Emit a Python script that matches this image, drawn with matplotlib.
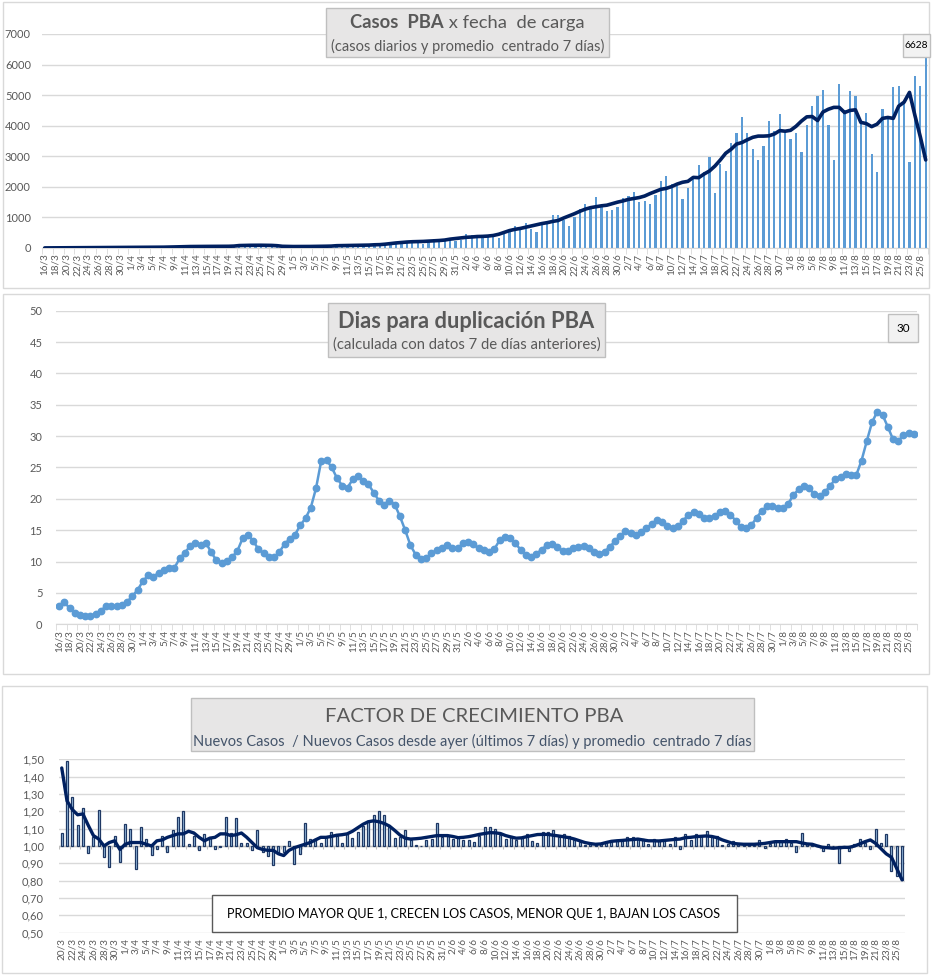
import numpy as np
import pandas as pd
import matplotlib
matplotlib.use("Agg")
import matplotlib.pyplot as plt
from matplotlib.patches import Rectangle

plt.rcParams['font.family'] = ['Lato', 'DejaVu Sans']

W, H = 932, 975

# ---- data ----
dates = pd.date_range("2020-03-16", "2020-08-26")
date_labels = [f"{d.day}/{d.month}" for d in dates]
factor_labels = date_labels[4:]          # growth factor starts 20/3

# daily cases (bars)
casos = [2, 3, 4, 3, 6, 8, 5, 10, 12, 9, 14, 15, 11, 17, 18, 14, 20, 22, 18, 24, 25, 21, 27, 28, 30,
         42, 48, 45, 52, 50, 55, 48, 53, 58, 52, 60,
         85, 88, 92, 95, 90, 86, 84, 70,
         52, 48, 46, 50, 52, 48, 55, 56, 60, 64,
         72, 78, 80, 84, 86, 90, 96, 104,
         98, 120, 140, 152, 196, 185, 261, 152, 130, 185, 294, 229, 261, 261, 229, 250, 457, 414,
         370, 327, 370, 392, 327, 479, 588, 719, 697, 806, 632, 523, 762, 806, 1078, 1067, 915,
         719, 1002, 1286, 1438, 1330, 1667, 1373, 1210, 1242, 1340,
         1630, 1700, 1830, 1500, 1540, 1440, 1740, 2190, 2350, 2080, 2040, 1600, 1970, 2250, 2710,
         2490, 2970, 1800, 2760, 2520, 3430, 3760, 4280, 3760, 3240, 2880, 3330, 4150, 3820, 4380,
         3760, 3560, 3760, 3140, 4020, 4640, 4970, 5160, 4020, 2880, 5360, 4500, 5130, 4970, 4100,
         4400, 3070, 2480, 4540, 4270, 5270, 5300, 4730, 2810, 5620, 5300, 6628]

# centered 7-day average (line)
casos_prom = [3, 4, 5, 6, 7, 8, 9, 10, 11, 12, 13, 14, 15, 16, 17, 18, 20, 21, 22, 23, 24, 25, 27, 30, 35,
              40, 45, 48, 50, 50, 52, 52, 53, 55, 56, 62,
              80, 85, 88, 90, 90, 88, 85, 75,
              55, 50, 48, 48, 50, 50, 52, 55, 58, 62,
              75, 78, 80, 82, 85, 88, 95, 105,
              110, 125, 145, 165, 180, 195, 205, 210, 215, 225, 235, 245, 260, 290, 310, 330, 350,
              360, 375, 380, 390, 410, 450, 510, 570, 610, 640, 680, 720, 760, 800, 830, 870, 900,
              980, 1050, 1120, 1200, 1270, 1320, 1350, 1380, 1400, 1450, 1500,
              1540, 1590, 1620, 1650, 1700, 1780, 1850, 1920, 1950, 2010, 2090, 2150, 2180, 2310,
              2300, 2420, 2520, 2680, 2880, 3100, 3230, 3400, 3450, 3540, 3620, 3660, 3660, 3670,
              3730, 3840, 3820, 3850, 3980,
              4150, 4290, 4300, 4170, 4450, 4540, 4600, 4600, 4430, 4500, 4520,
              4110, 4070, 3970, 4050, 4240, 4270, 4240, 4640, 4770, 5090, 4340, 3640, 2880]

# days to double
dias_dup = [2.9, 3.6, 2.55, 1.86, 1.5, 1.33, 1.33, 1.7, 2.2, 2.9,
            2.9, 2.9, 3.1, 3.6, 4.5, 5.5, 6.9, 7.8, 7.6, 8.2,
            8.7, 8.9, 9.0, 10.5, 11.4, 12.5, 13.0, 12.6, 13.0, 11.5,
            10.2, 9.7, 10.1, 10.7, 11.7, 13.7, 14.3, 13.3, 12.0, 11.3,
            10.7, 10.7, 11.5, 12.8, 13.6, 14.3, 15.8, 16.9, 18.6, 21.7,
            26.1, 26.2, 25.0, 23.3, 22.1, 21.8, 23.1, 23.7, 22.8, 22.3,
            21.0, 19.7, 19.1, 19.7, 19.1, 17.2, 15.0, 12.6, 11.1, 10.4,
            10.6, 11.3, 11.8, 12.2, 12.6, 12.1, 12.1, 12.9,
            13.1, 12.75, 12.1, 11.9, 11.6, 12.0, 13.4, 13.9, 13.7, 12.9,
            11.9, 11.05, 10.7, 11.2, 11.9, 12.6, 12.75, 12.4, 11.7, 11.7,
            12.1, 12.4, 12.5, 12.1, 11.6, 11.2, 11.6, 12.3, 13.3, 14.1,
            14.8, 14.6, 14.3, 14.7, 15.3, 16.0, 16.6, 16.3, 15.6, 15.3,
            15.6, 16.5, 17.5, 17.9, 17.6, 17.0, 17.0, 17.2, 17.9, 18.0,
            17.5, 16.5, 15.5, 15.3, 15.8, 17.0, 18.1, 18.8, 18.8, 18.5,
            18.5, 19.2, 20.6, 21.5, 22.0, 21.7, 20.7, 20.4, 21.1, 22.0,
            23.2, 23.5, 23.9, 23.8, 23.8, 26.1, 29.2, 32.2, 33.9, 33.4,
            31.5, 29.5, 29.2, 30.2, 30.5, 30.3]

# growth factor (bars, from 20/3)
factor = [1.073, 1.49, 1.28, 1.12, 1.22, 0.96, 1.05, 1.205, 0.935, 0.88,
          1.06, 0.91, 1.125, 1.10, 0.865, 1.108, 1.04, 0.95, 0.98, 1.06,
          0.965, 1.095, 1.165, 1.20, 1.01, 1.055, 0.975, 1.07, 1.05, 0.98,
          0.995, 1.17, 1.073, 1.16, 1.015, 1.015, 0.977, 1.092, 0.967, 0.94,
          0.89, 0.958, 0.967, 1.027, 0.896, 0.952, 1.13, 1.04, 1.04, 1.015,
          1.05, 1.08, 1.06, 1.015, 1.067, 1.045, 1.083, 1.115, 1.145, 1.177,
          1.20, 1.177, 1.108, 1.045, 1.05, 1.092, 1.035, 1.006, 1.002, 1.035,
          1.04, 1.13, 1.05, 1.055, 1.04, 1.05, 1.035, 1.035, 1.023, 1.06,
          1.108, 1.108, 1.10, 1.063, 1.04, 1.055, 1.035, 1.045, 1.067, 1.03,
          1.015, 1.08, 1.08, 1.092, 1.05, 1.067, 1.055, 1.035, 1.025, 1.006,
          1.012, 1.004, 1.01, 1.015, 1.025, 1.035, 1.03, 1.05, 1.05, 1.042,
          1.042, 1.012, 1.04, 1.035, 1.035, 1.01, 1.05, 0.98, 1.067, 1.035,
          1.067, 1.06, 1.087, 1.054, 1.06, 1.004, 1.01, 1.03, 1.01, 1.01,
          1.005, 1.005, 1.035, 0.99, 1.01, 1.023, 1.023, 1.042, 1.015, 0.965,
          1.073, 1.01, 1.01, 1.005, 0.97, 1.012, 1.002, 0.904, 1.00, 0.97,
          1.012, 1.04, 1.015, 0.985, 1.10, 1.02, 1.067, 0.858, 0.827, 0.804]

# centered 7-day average of the factor
factor_prom = [1.45, 1.26, 1.21, 1.18, 1.185, 1.12, 1.06, 1.04, 1.00, 1.02,
               1.03, 0.98, 1.01, 1.02, 1.02, 1.02, 1.01, 1.00, 1.03, 1.035,
               1.05, 1.06, 1.07, 1.07, 1.085, 1.075, 1.05, 1.03, 1.045, 1.05,
               1.07, 1.07, 1.06, 1.065, 1.075, 1.05, 1.02, 0.99, 0.98, 0.975,
               0.975, 0.955, 0.945, 0.975, 0.99, 1.00, 1.01, 1.02, 1.035, 1.05,
               1.05, 1.055, 1.062, 1.065, 1.07, 1.085, 1.105, 1.125, 1.14, 1.145,
               1.14, 1.13, 1.115, 1.09, 1.063, 1.045, 1.04, 1.042, 1.045, 1.05,
               1.055, 1.06, 1.06, 1.06, 1.055, 1.048, 1.05, 1.054, 1.06, 1.067,
               1.072, 1.077, 1.076, 1.072, 1.06, 1.052, 1.045, 1.047, 1.054, 1.06,
               1.066, 1.067, 1.067, 1.062, 1.058, 1.053, 1.048, 1.04, 1.03, 1.02,
               1.014, 1.01, 1.012, 1.02, 1.027, 1.03, 1.032, 1.035, 1.037, 1.04,
               1.035, 1.03, 1.03, 1.029, 1.032, 1.035, 1.038, 1.04, 1.048, 1.05,
               1.054, 1.056, 1.058, 1.055, 1.048, 1.035, 1.025, 1.015, 1.012, 1.01,
               1.01, 1.01, 1.012, 1.015, 1.02, 1.025, 1.025, 1.025, 1.025, 1.025,
               1.018, 1.012, 1.01, 1.0, 0.992, 0.99, 0.987, 0.99, 0.992, 0.992,
               1.0, 1.012, 1.025, 1.035, 1.015, 0.985, 0.955, 0.935, 0.87, 0.805]

GRAY = '#595959'
GRID = '#d9d9d9'

fig = plt.figure(figsize=(W / 100, H / 100), dpi=100)
renderer = fig.canvas.get_renderer()


def ax_px(left, top, right, bottom):
    return fig.add_axes([left / W, 1 - bottom / H, (right - left) / W, (bottom - top) / H])


def box_px(x0, y0, x1, y1, fc, ec, lw=1.0):
    fig.patches.append(Rectangle((x0 / W, 1 - y1 / H), (x1 - x0) / W, (y1 - y0) / H,
                                 transform=fig.transFigure, facecolor=fc, edgecolor=ec,
                                 linewidth=lw, zorder=5))


def fit_text(xc, y, s, target, **kw):
    t = fig.text(xc / W, 1 - y / H, s, fontsize=10, ha='center', va='center', zorder=6, **kw)
    w = t.get_window_extent(renderer).width
    t.set_fontsize(10 * target / w)
    return t


def two_part(xc, y, s1, s2, target, color):
    t1 = fig.text(0, 1 - y / H, s1, fontsize=10, weight='bold', ha='left', va='center', color=color, zorder=6)
    t2 = fig.text(0, 1 - y / H, s2, fontsize=10, ha='left', va='center', color=color, zorder=6)
    w1 = t1.get_window_extent(renderer).width
    w2 = t2.get_window_extent(renderer).width
    k = target / (w1 + w2)
    t1.set_fontsize(10 * k)
    t2.set_fontsize(10 * k)
    x0 = xc - target / 2
    t1.set_x(x0 / W)
    t2.set_x((x0 + w1 * k) / W)


def style_axis(ax, n, labels, ypad):
    for s in ['top', 'right', 'left']:
        ax.spines[s].set_visible(False)
    ax.spines['bottom'].set_color(GRID)
    ax.grid(axis='y', color=GRID, lw=1)
    ax.set_axisbelow(True)
    ax.set_xlim(-0.5, n - 0.5)
    ax.set_xticks(np.arange(0, n, 2))
    ax.set_xticklabels(labels[::2], rotation=90, fontsize=7.2, color=GRAY)
    ax.set_xticks(np.arange(-0.5, n, 2), minor=True)
    ax.tick_params(axis='x', which='major', length=0, pad=4)
    ax.tick_params(axis='x', which='minor', length=4, color=GRID)
    ax.tick_params(axis='y', length=0, pad=ypad, labelsize=8, labelcolor=GRAY)


# panel borders
box_px(3, 2, 929, 288, 'none', GRID)
box_px(3, 294, 929, 674, 'none', GRID)
box_px(2, 686, 927, 973, 'none', GRID)

# ---- top: cases ----
n1 = len(casos)
ax1 = ax_px(42, 34, 42 + 886.4, 248)
x1 = np.arange(n1)
ax1.bar(x1, casos, width=0.42, color='#5b9bd5', zorder=2)
ax1.plot(x1, casos_prom, color='#002060', lw=2.6, zorder=3, solid_capstyle='round')
ax1.set_ylim(0, 7000)
ax1.set_yticks(range(0, 7001, 1000))
style_axis(ax1, n1, date_labels, 8)

box_px(326, 8, 609, 57, '#e7e6e6', '#bfbfbf')
two_part(467, 23, "Casos  PBA", " x fecha  de carga", 234, GRAY)
fit_text(467.5, 46, "(casos diarios y promedio  centrado 7 días)", 273, color=GRAY)
box_px(903, 34, 930, 57, '#f2f2f2', '#bfbfbf')
fit_text(916.5, 45.5, str(casos[-1]), 24, color='black')

# ---- middle: doubling days ----
n2 = len(dias_dup)
ax2 = ax_px(56.4, 310.7, 56.4 + 860.2, 624.3)
x2 = np.arange(n2)
ax2.plot(x2, dias_dup, color='#5b9bd5', lw=1.8, marker='o', markersize=4.6, zorder=3)
ax2.set_ylim(0, 50)
ax2.set_yticks(range(0, 51, 5))
style_axis(ax2, n2, date_labels, 10)

box_px(328, 303, 605, 357, '#e7e6e6', '#bfbfbf')
fit_text(466, 321, "Dias para duplicación PBA", 256, color=GRAY, weight='bold')
fit_text(466.5, 345, "(calculada con datos 7 de días anteriores)", 267, color=GRAY)
box_px(888, 314, 918, 342, '#f2f2f2', '#bfbfbf')
fit_text(903, 328, f"{dias_dup[-1]:.0f}", 13.4, color='black')

# ---- bottom: growth factor ----
n3 = len(factor)
ax3 = ax_px(59.1, 759.3, 59.1 + 845.6, 932.7)
x3 = np.arange(n3)
fv = np.array(factor)
ax3.bar(x3, fv - 1, bottom=1, width=0.38, facecolor='#9dc3e6', edgecolor='#1f3864', lw=0.9, zorder=2)
ax3.plot(x3, factor_prom, color='#002060', lw=2.4, zorder=3, solid_capstyle='round')
ax3.axhline(1.0, color='#bfbfbf', lw=1, zorder=1)
ax3.vlines(np.arange(-0.5, n3, 2), 0.985, 1.0, color='#bfbfbf', lw=0.8, zorder=1)
ax3.set_ylim(0.5, 1.5)
yt = np.round(np.arange(0.5, 1.501, 0.1), 2)
ax3.set_yticks(yt)
ax3.set_yticklabels([f"{v:.2f}".replace('.', ',') for v in yt])
style_axis(ax3, n3, factor_labels, 11)
ax3.spines['bottom'].set_visible(False)
ax3.tick_params(axis='x', which='minor', length=0)

box_px(191, 698, 754, 751, '#e7e6e6', '#bfbfbf')
fit_text(474, 716, "FACTOR DE CRECIMIENTO PBA", 295, color=GRAY)
fit_text(472, 741, "Nuevos Casos  / Nuevos Casos desde ayer (últimos 7 días) y promedio  centrado 7 días",
         554, color='#44546a')
box_px(212, 895, 737, 932, 'white', '#595959')
fit_text(474, 913.5, "PROMEDIO MAYOR QUE 1, CRECEN LOS CASOS, MENOR QUE 1, BAJAN LOS CASOS", 490, color='black')

fig.savefig("out.png", dpi=100, facecolor='white')
